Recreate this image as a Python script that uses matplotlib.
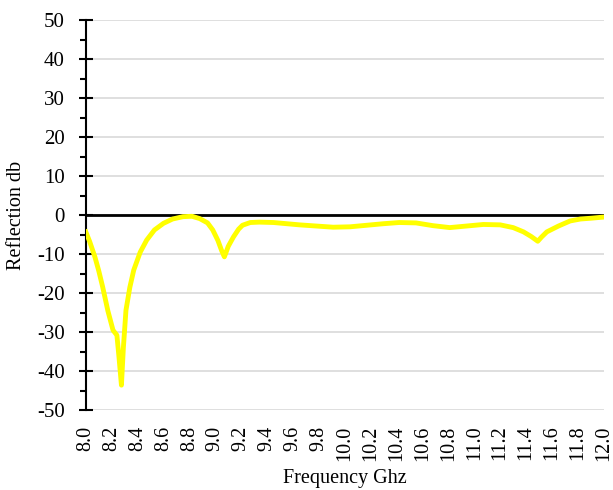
import matplotlib.pyplot as plt
import numpy as np
from matplotlib.ticker import MultipleLocator

plt.rcParams['font.family'] = ['Liberation Serif', 'DejaVu Serif']
plt.rcParams['axes.unicode_minus'] = False

# ==data==
freq = [8.00, 8.03, 8.07, 8.10, 8.13, 8.17, 8.21, 8.24, 8.255, 8.275, 8.29, 8.31,
        8.34, 8.37, 8.42, 8.47, 8.53, 8.60, 8.67, 8.75, 8.82, 8.88, 8.94, 8.98,
        9.02, 9.05, 9.07, 9.10, 9.14, 9.18, 9.21, 9.27, 9.34, 9.45, 9.55, 9.65,
        9.78, 9.91, 10.04, 10.17, 10.30, 10.42, 10.55, 10.68, 10.81, 10.94, 11.07,
        11.20, 11.30, 11.38, 11.44, 11.49, 11.52, 11.56, 11.65, 11.74, 11.82,
        11.90, 12.00]
refl = [-4.3, -6.8, -10.7, -14.3, -18.4, -24.5, -29.5, -30.8, -36.0, -43.6,
        -34.0, -24.4, -18.5, -14.1, -9.5, -6.4, -3.8, -2.1, -1.0, -0.4, -0.3,
        -0.9, -2.0, -3.8, -6.5, -9.2, -10.7, -8.0, -5.6, -3.6, -2.6, -1.9, -1.8,
        -1.9, -2.2, -2.5, -2.8, -3.1, -3.0, -2.6, -2.2, -1.9, -2.0, -2.7, -3.2,
        -2.8, -2.4, -2.5, -3.2, -4.3, -5.5, -6.7, -5.6, -4.3, -2.8, -1.5, -1.0,
        -0.8, -0.5]

xticks = np.round(np.arange(8.0, 12.01, 0.2), 1)
xticklabels = ['%.1f' % v for v in xticks]

fig = plt.figure(figsize=(6.13, 4.90), dpi=100)
ax = fig.add_axes([0.140, 0.163, 0.845, 0.796])

ax.set_ylim(-50, 50)
ax.set_xlim(8.0, 12.0)
ax.yaxis.set_major_locator(MultipleLocator(10))
ax.yaxis.set_minor_locator(MultipleLocator(5))
ax.grid(axis='y', color='#d9d9d9', linewidth=1.2, zorder=0)
ax.axhline(0, color='black', linewidth=2, zorder=2)

ax.plot(freq, refl, color='#ffff00', linewidth=3.5, zorder=3)

ax.set_xticks(xticks)
ax.set_xticklabels(xticklabels, rotation=90, fontsize=14.5)
ax.tick_params(axis='x', length=0, pad=11)
ax.tick_params(axis='y', which='major', direction='inout', length=10, width=1.5, labelsize=15, pad=10)
ax.tick_params(axis='y', which='minor', direction='out', length=4, width=1.5)

for s in ['top', 'right', 'bottom']:
    ax.spines[s].set_visible(False)
ax.spines['left'].set_linewidth(1.5)

ax.set_xlabel('Frequency Ghz', fontsize=14.5, labelpad=6)
ax.set_ylabel('Reflection db', fontsize=14.5, labelpad=8)

fig.savefig('out.png', dpi=100)
